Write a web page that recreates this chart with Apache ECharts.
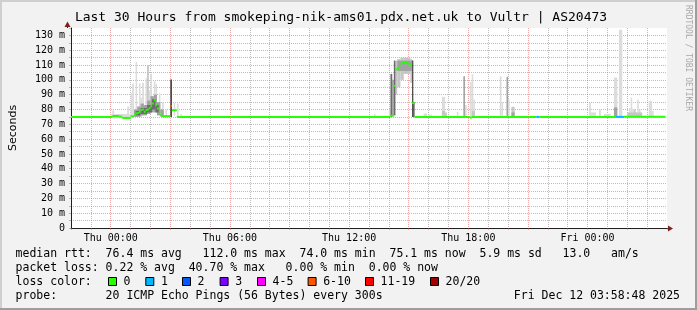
<!DOCTYPE html>
<html><head><meta charset="utf-8">
<script src="https://cdn.jsdelivr.net/npm/echarts@6/dist/echarts.min.js"></script>
<style>html,body{margin:0;padding:0;background:#f2f2f2}#c{width:697px;height:310px}</style>
</head><body><div id="c"></div>
<script>
// ---------------- data ----------------
const TITLE = 'Last 30 Hours from smokeping-nik-ams01.pdx.net.uk to Vultr | AS20473';
const X_MIN = -2, X_MAX = 28;            // hours relative to Thu 00:00
const Y_MAX = 135;                        // ms
const X_LABELS = {0: 'Thu 00:00', 6: 'Thu 06:00', 12: 'Thu 12:00', 18: 'Thu 18:00', 24: 'Fri 00:00'};
const LOSS_COLORS = ['#26ff00', '#00b8ff', '#0059ff', '#7e00ff', '#ff00ff', '#ff5500', '#ff0000', '#a00000'];
const LOSS_LABELS = ['0', '1', '2', '3', '4-5', '6-10', '11-19', '20/20'];
const SMOKE_SHADES = ['#dcdcdc', '#c6c6c6', '#a2a2a2', '#6c6c6c', '#3e3e3e'];

// median RTT: [startHour, endHour, ms, lossClass]
const medianRuns = [
  [-2.00, 0.08, 75.0, 0], [0.08, 0.42, 75.6, 0], [0.42, 0.58, 75.2, 0], [0.58, 1.00, 74.3, 0],
  [1.00, 1.17, 75.4, 0], [1.17, 1.25, 76.3, 0], [1.25, 1.33, 77.3, 0], [1.33, 1.42, 77.7, 0],
  [1.42, 1.50, 78.4, 0], [1.50, 1.58, 79.6, 0], [1.58, 1.67, 80.0, 0], [1.67, 1.75, 78.4, 0],
  [1.75, 1.83, 79.6, 0], [1.83, 1.92, 80.0, 0], [1.92, 2.00, 81.0, 0], [2.00, 2.08, 82.2, 0],
  [2.08, 2.17, 84.1, 0], [2.17, 2.25, 86.3, 0], [2.25, 2.33, 82.9, 0], [2.33, 2.42, 80.7, 0],
  [2.42, 2.50, 78.4, 0], [2.50, 2.58, 76.2, 0], [2.58, 3.00, 75.5, 0], [3.00, 3.08, 82.4, 5],
  [3.08, 3.33, 79.5, 0], [3.33, 14.08, 75.0, 0],
  [14.08, 14.25, 75.8, 0], [14.25, 14.33, 95.9, 0], [14.33, 14.42, 107.1, 0], [14.42, 14.50, 108.0, 0],
  [14.50, 14.58, 109.4, 0], [14.58, 14.67, 111.0, 0], [14.67, 14.75, 112.0, 0], [14.75, 14.92, 111.6, 0],
  [14.92, 15.00, 111.1, 0], [15.00, 15.17, 110.6, 0], [15.17, 15.29, 84.3, 0],
  [15.29, 18.08, 75.0, 0], [18.08, 18.17, 74.5, 0], [18.17, 21.42, 75.0, 0], [21.42, 21.58, 75.0, 1],
  [21.58, 25.42, 75.0, 0], [25.42, 25.83, 75.0, 1], [25.83, 27.92, 75.1, 0]
];

// smoke: [startHour, endHour, lowMs, highMs, shade]
const smokeRuns = [
  // Thu 00:00 - 03:30
  [0.00, 1.17, 74.0, 77.0, 0], [0.08, 0.17, 74.5, 79.5, 0], [0.83, 0.92, 74.0, 82.0, 0],
  [1.00, 1.08, 74.5, 91.0, 0], [1.08, 1.17, 75.0, 97.5, 0], [1.25, 1.33, 75.0, 112.0, 0],
  [1.42, 1.50, 75.0, 97.5, 0], [1.50, 1.58, 75.0, 88.0, 0], [1.58, 1.67, 76.0, 98.0, 0],
  [1.75, 1.83, 76.0, 101.0, 0], [1.83, 1.92, 77.0, 110.0, 1], [1.92, 2.00, 77.0, 93.0, 0],
  [2.00, 2.08, 78.0, 104.0, 0], [2.17, 2.25, 80.0, 99.0, 0], [2.25, 2.33, 78.0, 97.0, 0],
  [2.42, 2.50, 76.0, 91.0, 0], [2.58, 2.67, 75.0, 85.0, 0], [2.75, 2.83, 75.0, 80.0, 0],
  [3.17, 3.25, 76.0, 84.4, 0], [3.33, 3.42, 75.0, 84.0, 0], [3.50, 3.58, 75.0, 77.0, 0],
  [1.17, 1.33, 75.0, 80.0, 2], [1.33, 1.50, 75.0, 82.0, 2], [1.50, 1.67, 76.0, 84.0, 2],
  [1.67, 1.83, 76.0, 83.0, 2], [1.83, 2.00, 77.0, 86.0, 2], [2.00, 2.17, 78.0, 89.0, 2],
  [2.17, 2.33, 78.0, 90.0, 2], [2.33, 2.50, 76.0, 85.0, 2], [2.50, 2.67, 75.0, 80.0, 2],
  [1.25, 1.50, 76.0, 79.0, 3], [1.50, 1.83, 77.0, 81.0, 3], [1.83, 2.08, 78.0, 83.0, 3],
  [2.08, 2.25, 80.0, 87.0, 3], [2.25, 2.42, 78.0, 83.0, 3],
  [3.00, 3.08, 75.0, 100.2, 4],
  // Thu 14:00 - 15:20 plateau
  [13.25, 13.33, 75.0, 77.0, 0], [14.00, 14.08, 75.0, 80.0, 0],
  [14.08, 14.17, 75.0, 104.0, 3], [14.17, 14.25, 76.0, 100.0, 2], [14.25, 14.33, 76.0, 113.0, 3],
  [14.33, 14.42, 90.0, 113.0, 1], [14.42, 14.58, 95.0, 114.0, 1], [14.58, 14.75, 100.0, 115.0, 1],
  [14.75, 15.08, 104.0, 115.0, 1], [15.08, 15.17, 98.0, 114.0, 1], [14.42, 15.17, 106.0, 113.0, 2],
  [15.17, 15.23, 75.0, 113.0, 4], [15.23, 15.29, 75.0, 85.0, 4],
  // Thu 15:30 - 20:30
  [15.75, 15.92, 75.0, 77.3, 0], [16.00, 16.17, 75.0, 76.5, 0],
  [16.67, 16.83, 75.0, 88.5, 0], [16.67, 16.83, 75.0, 79.0, 1], [16.83, 16.92, 75.0, 78.0, 1],
  [17.42, 17.50, 75.0, 78.4, 0], [17.75, 17.83, 75.0, 102.4, 2], [17.83, 17.92, 75.0, 83.0, 0],
  [18.08, 18.17, 75.0, 98.6, 0], [18.17, 18.25, 75.0, 103.8, 0], [18.25, 18.33, 75.0, 86.7, 0],
  [18.17, 18.33, 75.0, 79.0, 1],
  [19.58, 19.67, 75.0, 102.4, 0], [19.67, 19.75, 75.0, 85.0, 0], [19.92, 20.00, 75.0, 102.0, 2],
  [20.00, 20.08, 75.0, 86.7, 0], [20.17, 20.33, 75.0, 81.8, 1], [20.17, 20.33, 75.0, 78.0, 2],
  // Fri 00:00 - 03:30
  [24.08, 24.17, 75.0, 84.5, 0], [24.17, 24.42, 75.0, 78.0, 0], [24.58, 24.67, 75.0, 80.0, 0],
  [24.83, 25.17, 75.0, 77.0, 0], [25.33, 25.50, 75.0, 101.5, 0], [25.33, 25.50, 75.0, 81.4, 2],
  [25.58, 25.75, 75.0, 133.8, 0], [26.08, 26.17, 75.0, 81.0, 0], [26.17, 26.25, 75.0, 88.0, 0],
  [26.25, 26.33, 75.0, 80.5, 0], [26.33, 26.42, 75.0, 80.0, 1], [26.50, 26.58, 75.0, 86.7, 0],
  [26.58, 26.67, 75.0, 80.0, 0], [26.00, 26.75, 75.0, 78.0, 1], [27.08, 27.25, 75.0, 85.8, 0],
  [27.25, 27.33, 75.0, 79.0, 0]
];

const LEGEND_LINES = [
  'median rtt:  76.4 ms avg   112.0 ms max  74.0 ms min  75.1 ms now  5.9 ms sd   13.0   am/s',
  'packet loss: 0.22 % avg  40.70 % max   0.00 % min  0.00 % now'
];
const PROBE_TEXT = 'probe:       20 ICMP Echo Pings (56 Bytes) every 300s';
const TIMESTAMP = 'Fri Dec 12 03:58:48 2025';
const WATERMARK = 'RRDTOOL / TOBI OETIKER';

// ---------------- layout / style ----------------
const GL = 67, GT = 28, GR = 30, GB = 82;
const W = 697, H = 310;
const MONO = '"DejaVu Sans Mono", monospace';
const MAJOR = 'rgba(222,79,79,0.5)';
const MINOR = 'rgba(143,143,143,0.6)';

const xCount = X_MAX - X_MIN + 1;
const xColors = [];
for (let i = 0; i < xCount; i++) {
  const h = X_MIN + i;
  xColors.push((i === 0 || i === xCount - 1) ? 'rgba(0,0,0,0)' : ((h % 3 === 0) ? MAJOR : MINOR));
}
const yCount = Y_MAX / 5 + 1;
const yColors = [];
for (let i = 0; i < yCount; i++) {
  yColors.push((i === 0 || i === yCount - 1) ? 'rgba(0,0,0,0)' : (i % 2 === 0 ? MAJOR : MINOR));
}

function smokeItem(params, api) {
  const a = api.coord([api.value(0), api.value(3)]);
  const b = api.coord([api.value(1), api.value(2)]);
  const s = api.value(4);
  return {type: 'rect', z2: s, shape: {x: a[0], y: a[1], width: b[0] - a[0], height: b[1] - a[1]},
          style: {fill: SMOKE_SHADES[s]}};
}
function medianItem(params, api) {
  const a = api.coord([api.value(0), api.value(2)]);
  const b = api.coord([api.value(1), api.value(2)]);
  return {type: 'rect', shape: {x: a[0], y: a[1] - 1, width: b[0] - a[0], height: 2},
          style: {fill: LOSS_COLORS[api.value(3)]}};
}

const graphics = [];
// frame shading
graphics.push({type: 'rect', shape: {x: 0, y: 0, width: W, height: 2}, style: {fill: '#cfcfcf'}, silent: true});
graphics.push({type: 'rect', shape: {x: 0, y: 0, width: 2, height: H}, style: {fill: '#cfcfcf'}, silent: true});
graphics.push({type: 'rect', shape: {x: W - 2, y: 0, width: 2, height: H}, style: {fill: '#9e9e9e'}, silent: true});
graphics.push({type: 'rect', shape: {x: 0, y: H - 2, width: W, height: 2}, style: {fill: '#9e9e9e'}, silent: true});
// title
graphics.push({type: 'text', x: 341, y: 18, style: {text: TITLE, fontFamily: MONO, fontSize: 13, fill: '#000', align: 'center', verticalAlign: 'middle'}});
// watermark
graphics.push({type: 'text', x: 688, y: 5, rotation: -Math.PI / 2, style: {text: WATERMARK, fontFamily: MONO, fontSize: 8, fill: '#a8a8a8', align: 'left', verticalAlign: 'middle'}});
// axis arrows
const xEnd = W - GR, yBot = H - GB;
graphics.push({type: 'line', shape: {x1: xEnd, y1: yBot + 0.5, x2: xEnd + 2, y2: yBot + 0.5}, style: {stroke: '#1f1f1f', lineWidth: 1}});
graphics.push({type: 'polygon', shape: {points: [[xEnd + 1, yBot - 2.5], [xEnd + 1, yBot + 3.5], [xEnd + 6, yBot + 0.5]]}, style: {fill: '#801f1f'}});
graphics.push({type: 'line', shape: {x1: GL + 0.5, y1: GT, x2: GL + 0.5, y2: GT - 1}, style: {stroke: '#1f1f1f', lineWidth: 1}});
graphics.push({type: 'polygon', shape: {points: [[GL - 2.5, GT - 1], [GL + 3.5, GT - 1], [GL + 0.5, GT - 6.5]]}, style: {fill: '#801f1f'}});
// legend text lines
const LX = 15.6, LINE_Y = [254, 268, 282, 296];
LEGEND_LINES.forEach((t, i) => graphics.push({type: 'text', x: LX, y: LINE_Y[i], style: {text: t, fontFamily: MONO, fontSize: 11.5, fill: '#000', align: 'left', verticalAlign: 'middle'}}));
graphics.push({type: 'text', x: LX, y: LINE_Y[2], style: {text: 'loss color:', fontFamily: MONO, fontSize: 11.5, fill: '#000', align: 'left', verticalAlign: 'middle'}});
const SW_X = [108, 145.3, 182, 219.6, 257, 307.6, 365, 430];
LOSS_LABELS.forEach((lab, i) => {
  graphics.push({type: 'rect', shape: {x: SW_X[i] + 0.5, y: LINE_Y[2] - 4.5, width: 8, height: 8}, style: {fill: LOSS_COLORS[i], stroke: '#000', lineWidth: 1}});
  graphics.push({type: 'text', x: SW_X[i] + 15.6, y: LINE_Y[2], style: {text: lab, fontFamily: MONO, fontSize: 11.5, fill: '#000', align: 'left', verticalAlign: 'middle'}});
});
graphics.push({type: 'text', x: LX, y: LINE_Y[3], style: {text: PROBE_TEXT, fontFamily: MONO, fontSize: 11.5, fill: '#000', align: 'left', verticalAlign: 'middle'}});
graphics.push({type: 'text', x: 680, y: LINE_Y[3], style: {text: TIMESTAMP, fontFamily: MONO, fontSize: 11.5, fill: '#000', align: 'right', verticalAlign: 'middle'}});

const chart = echarts.init(document.getElementById('c'), null, {renderer: 'canvas', width: W, height: H});
chart.setOption({
  animation: false,
  backgroundColor: '#f2f2f2',
  grid: {left: GL, right: GR, top: GT, bottom: GB, show: true, backgroundColor: '#ffffff', borderWidth: 0, containLabel: false},
  xAxis: {
    type: 'value', min: X_MIN, max: X_MAX, interval: 1,
    axisLine: {show: true, onZero: false, lineStyle: {color: '#1f1f1f', width: 1}},
    axisTick: {show: true, length: 2, lineStyle: {color: MAJOR}},
    axisLabel: {show: true, margin: 5, fontFamily: MONO, fontSize: 10, color: '#000',
      showMinLabel: true, showMaxLabel: true, hideOverlap: false,
      formatter: v => X_LABELS[v] || ''},
    splitLine: {show: true, lineStyle: {color: xColors, width: 1, type: [1, 1]}}
  },
  yAxis: {
    type: 'value', min: 0, max: Y_MAX, interval: 5,
    name: 'Seconds', nameLocation: 'middle', nameGap: 52, nameRotate: 90,
    nameTextStyle: {fontFamily: '"DejaVu Sans", sans-serif', fontSize: 11, color: '#000'},
    axisLine: {show: true, onZero: false, lineStyle: {color: '#1f1f1f', width: 1}},
    axisTick: {show: true, length: 2, lineStyle: {color: MINOR}},
    axisLabel: {show: true, margin: 6, fontFamily: MONO, fontSize: 10, color: '#000',
      showMinLabel: true, showMaxLabel: true, hideOverlap: false,
      formatter: v => (v % 10 === 0 && v <= 130) ? (v === 0 ? '0' : v + ' m') : ''},
    splitLine: {show: true, lineStyle: {color: yColors, width: 1, type: [1, 1]}}
  },
  series: [
    {type: 'custom', name: 'smoke', data: smokeRuns, renderItem: smokeItem, clip: true,
     encode: {x: [0, 1], y: [2, 3]}, silent: true},
    {type: 'custom', name: 'median', data: medianRuns, renderItem: medianItem, clip: true,
     encode: {x: [0, 1], y: 2}, silent: true, z: 3}
  ],
  graphic: {elements: graphics}
});
</script></body></html>
